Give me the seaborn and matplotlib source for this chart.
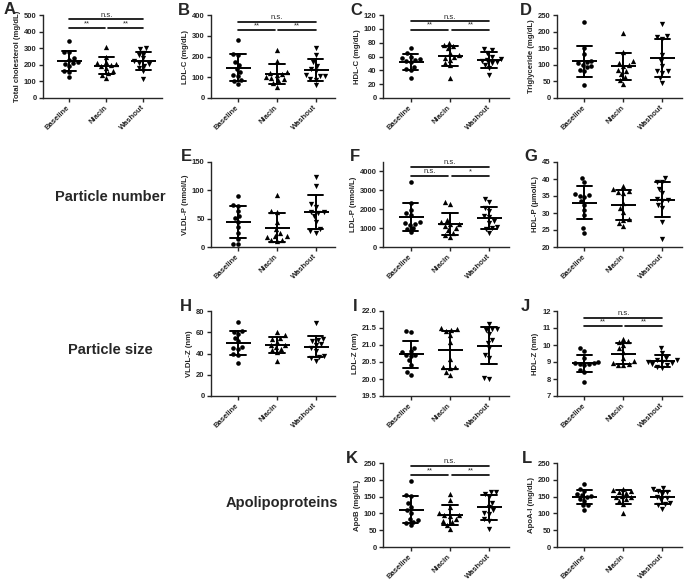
import matplotlib.pyplot as plt
import seaborn as sns
import pandas as pd

sns.set_style('ticks')
plt.rcParams['font.family'] = ['Liberation Sans', 'DejaVu Sans']
plt.rcParams['font.weight'] = 'bold'
plt.rcParams['axes.labelweight'] = 'bold'

groups = ['Baseline', 'Niacin', 'Washout']

# A - total cholesterol (mg/dL)
tc_base = [343, 280, 278, 240, 230, 215, 212, 195, 160, 155, 127, 205]
tc_nia = [308, 250, 215, 212, 205, 200, 195, 180, 160, 150, 140, 120]
tc_wash = [302, 295, 272, 258, 240, 225, 212, 205, 195, 180, 160, 115]
# B - LDL-C (mg/dL)
ldlc_base = [281, 212, 208, 175, 160, 140, 125, 110, 105, 85, 80, 68]
ldlc_nia = [232, 178, 125, 120, 115, 110, 100, 95, 90, 85, 72, 52]
ldlc_wash = [243, 205, 175, 155, 140, 130, 110, 108, 105, 92, 88, 62]
# C - HDL-C (mg/dL)
hdlc_base = [72, 65, 60, 58, 56, 55, 54, 52, 45, 42, 40, 29]
hdlc_nia = [80, 77, 75, 72, 65, 62, 60, 58, 55, 50, 47, 29]
hdlc_wash = [71, 70, 65, 60, 57, 55, 54, 52, 50, 48, 43, 33]
# D - triglyceride (mg/dL)
tg_base = [230, 152, 132, 112, 108, 104, 100, 95, 92, 85, 80, 38]
tg_nia = [197, 140, 110, 105, 100, 95, 85, 80, 72, 62, 55, 42]
tg_wash = [222, 186, 184, 178, 130, 110, 95, 82, 80, 76, 60, 46]
# E - VLDL-P (nmol/L)
vldlp_base = [90, 74, 72, 63, 55, 51, 45, 35, 24, 15, 6, 5]
vldlp_nia = [92, 63, 61, 45, 31, 25, 20, 19, 18, 13, 12, 11]
vldlp_wash = [124, 107, 76, 70, 62, 61, 60, 54, 45, 31, 28, 25]
# F - LDL-P (nmol/L)
ldlp_base = [3430, 2340, 1950, 1820, 1700, 1330, 1250, 1220, 1180, 1000, 950, 800]
ldlp_nia = [2380, 2280, 1450, 1300, 1230, 1200, 1100, 1000, 900, 750, 650, 520]
ldlp_wash = [2550, 2400, 2080, 1900, 1620, 1580, 1400, 1250, 1050, 1000, 950, 720]
# G - HDL-P (umol/L)
hdlp_base = [40.2, 39.0, 35.5, 35.3, 35.0, 34.8, 33.5, 32.5, 31.0, 29.5, 25.5, 24.2]
hdlp_nia = [38.0, 37.0, 36.5, 36.2, 36.0, 33.0, 31.5, 30.2, 28.2, 27.8, 27.0, 26.2]
hdlp_wash = [40.3, 39.2, 39.0, 37.0, 35.8, 34.0, 33.8, 33.6, 32.3, 31.5, 27.4, 22.5]
# H - VLDL-Z (nm)
vldlz_base = [70, 61, 60, 58, 55, 52, 46, 45, 44, 40, 39, 31]
vldlz_nia = [60, 57, 55, 54, 51, 48, 48, 46, 44, 43, 41, 33]
vldlz_wash = [69, 54, 53, 52, 49, 48, 45, 42, 38, 37, 36, 33]
# I - LDL-Z (nm)
ldlz_base = [21.40, 21.38, 20.90, 20.82, 20.78, 20.72, 20.70, 20.68, 20.55, 20.42, 20.22, 20.12]
ldlz_nia = [21.50, 21.48, 21.45, 21.40, 21.30, 21.08, 20.58, 20.36, 20.34, 20.32, 20.22, 20.12]
ldlz_wash = [21.62, 21.48, 21.46, 21.44, 21.32, 21.15, 21.05, 20.90, 20.72, 20.62, 20.02, 20.01]
# J - HDL-Z (nm)
hdlz_base = [9.82, 9.66, 9.22, 9.00, 8.95, 8.92, 8.90, 8.88, 8.82, 8.55, 8.42, 7.82]
hdlz_nia = [10.38, 10.22, 10.18, 10.02, 9.80, 9.60, 9.26, 9.05, 8.92, 8.90, 8.82, 8.80]
hdlz_wash = [9.82, 9.52, 9.25, 9.12, 9.10, 9.02, 9.00, 8.92, 8.88, 8.82, 8.70, 8.66]
# K - ApoB (mg/dL)
apob_base = [195, 154, 152, 132, 120, 110, 102, 84, 80, 75, 70, 64]
apob_nia = [157, 141, 120, 100, 96, 94, 92, 82, 78, 74, 66, 53]
apob_wash = [165, 163, 158, 148, 132, 120, 110, 102, 98, 82, 78, 55]
# L - ApoA-I (mg/dL)
apoa_base = [188, 172, 168, 158, 155, 153, 150, 142, 138, 126, 124, 111]
apoa_nia = [173, 170, 168, 165, 160, 152, 150, 148, 142, 138, 128, 100]
apoa_wash = [175, 173, 168, 165, 158, 150, 145, 140, 132, 128, 124, 114]

W, H = 685, 580
fig = plt.figure(figsize=(W / 100, H / 100), dpi=100)


def add_ax(left, top, width, height):
    return fig.add_axes([left / W, 1 - (top + height) / H, width / W, height / H])


markers = {'Baseline': ('o', 3.3), 'Niacin': ('^', 3.8), 'Washout': ('v', 3.8)}


def panel(ax, base, nia, wash, ylabel, yticks, ylim, fmt='{:g}'):
    df = pd.DataFrame({
        'group': ['Baseline'] * len(base) + ['Niacin'] * len(nia) + ['Washout'] * len(wash),
        'value': base + nia + wash,
    })
    for g in groups:
        m, s = markers[g]
        sns.swarmplot(data=df[df.group == g], x='group', y='value', order=groups,
                      marker=m, size=s, color='black', linewidth=0, ax=ax)
    sns.pointplot(data=df, x='group', y='value', order=groups, errorbar='sd',
                  capsize=0.4, color='black', linestyle='none', marker='_',
                  markersize=18, markeredgewidth=1.4,
                  err_kws={'linewidth': 1.4}, ax=ax)
    ax.set_xlim(-0.7, 2.5)
    ax.set_ylim(*ylim)
    ax.set_yticks(yticks)
    ax.set_yticklabels([fmt.format(t) for t in yticks])
    ax.set_xticks(range(3))
    ax.set_xticklabels(groups, rotation=45, ha='right', va='center',
                       rotation_mode='anchor', fontsize=5.8)
    ax.set_xlabel('')
    ax.set_ylabel(ylabel, fontsize=5.6, labelpad=2)
    ax.tick_params(axis='both', direction='out', length=3, width=1,
                   labelsize=5.5, pad=1.5)
    ax.tick_params(axis='x', pad=3)
    sns.despine(ax=ax)
    for sp in ax.spines.values():
        sp.set_linewidth(1)


def bracket(ax, y_low, y_high, labels):
    segs = [(0, 0.96), (1.04, 2), (0, 2)]
    for (x0, x1), y, lab in zip(segs, [y_low, y_low, y_high], labels):
        ax.plot([x0, x1], [y, y], color='black', lw=1.2, clip_on=False)
        ax.annotate(lab, xy=((x0 + x1) / 2, y), xytext=(0, 0.5),
                    textcoords='offset points', ha='center', va='bottom',
                    fontsize=5.5, fontweight='normal')


cols = [(43, 119), (211, 124), (383, 126), (557, 125)]
rows = [(15, 83), (162, 85), (311, 85), (463, 84)]


def grid_ax(r, c):
    return add_ax(cols[c][0], rows[r][0], cols[c][1], rows[r][1])


ax = grid_ax(0, 0)
panel(ax, tc_base, tc_nia, tc_wash, 'Total cholesterol (mg/dL)', range(0, 501, 100), (0, 500))
bracket(ax, 420, 474, ['**', '**', 'n.s.'])

ax = grid_ax(0, 1)
panel(ax, ldlc_base, ldlc_nia, ldlc_wash, 'LDL-C (mg/dL)', range(0, 401, 100), (0, 400))
bracket(ax, 327, 368, ['**', '**', 'n.s.'])

ax = grid_ax(0, 2)
panel(ax, hdlc_base, hdlc_nia, hdlc_wash, 'HDL-C (mg/dL)', range(0, 121, 20), (0, 120))
bracket(ax, 99, 111, ['**', '**', 'n.s.'])

ax = grid_ax(0, 3)
panel(ax, tg_base, tg_nia, tg_wash, 'Triglyceride (mg/dL)', range(0, 251, 50), (0, 250))

ax = grid_ax(1, 1)
panel(ax, vldlp_base, vldlp_nia, vldlp_wash, 'VLDL-P (nmol/L)', range(0, 151, 50), (0, 150))

ax = grid_ax(1, 2)
panel(ax, ldlp_base, ldlp_nia, ldlp_wash, 'LDL-P (nmol/L)', range(0, 4001, 1000), (0, 4500))
bracket(ax, 3770, 4230, ['n.s.', '*', 'n.s.'])

ax = grid_ax(1, 3)
panel(ax, hdlp_base, hdlp_nia, hdlp_wash, 'HDL-P (\u03bcmol/L)', range(20, 46, 5), (20, 45))

ax = grid_ax(2, 1)
panel(ax, vldlz_base, vldlz_nia, vldlz_wash, 'VLDL-Z (nm)', range(0, 81, 20), (0, 80))

ax = grid_ax(2, 2)
panel(ax, ldlz_base, ldlz_nia, ldlz_wash, 'LDL-Z (nm)', [19.5, 20.0, 20.5, 21.0, 21.5, 22.0], (19.5, 22.0), fmt='{:.1f}')

ax = grid_ax(2, 3)
panel(ax, hdlz_base, hdlz_nia, hdlz_wash, 'HDL-Z (nm)', range(7, 13), (7, 12))
bracket(ax, 11.13, 11.6, ['**', '**', 'n.s.'])

ax = grid_ax(3, 2)
panel(ax, apob_base, apob_nia, apob_wash, 'ApoB (mg/dL)', range(0, 251, 50), (0, 250))
bracket(ax, 215, 241, ['**', '**', 'n.s.'])

ax = grid_ax(3, 3)
panel(ax, apoa_base, apoa_nia, apoa_wash, 'ApoA-I (mg/dL)', range(0, 251, 50), (0, 250))

letters = [('A', 4, 2), ('B', 178, 3), ('C', 350, 3), ('D', 520, 3),
           ('E', 181, 149), ('F', 350, 149), ('G', 524, 149),
           ('H', 180, 299), ('I', 353, 299), ('J', 521, 299),
           ('K', 346, 451), ('L', 522, 451)]
for txt, x, y in letters:
    fig.text(x / W, 1 - y / H, txt, fontsize=12, fontweight='bold', ha='left', va='top')

for txt, x, y in [('Particle number', 110, 197), ('Particle size', 110, 350), ('Apolipoproteins', 282, 503)]:
    fig.text(x / W, 1 - y / H, txt, fontsize=10.5, fontweight='bold', ha='center', va='center')

fig.savefig('out.png', dpi=100)
